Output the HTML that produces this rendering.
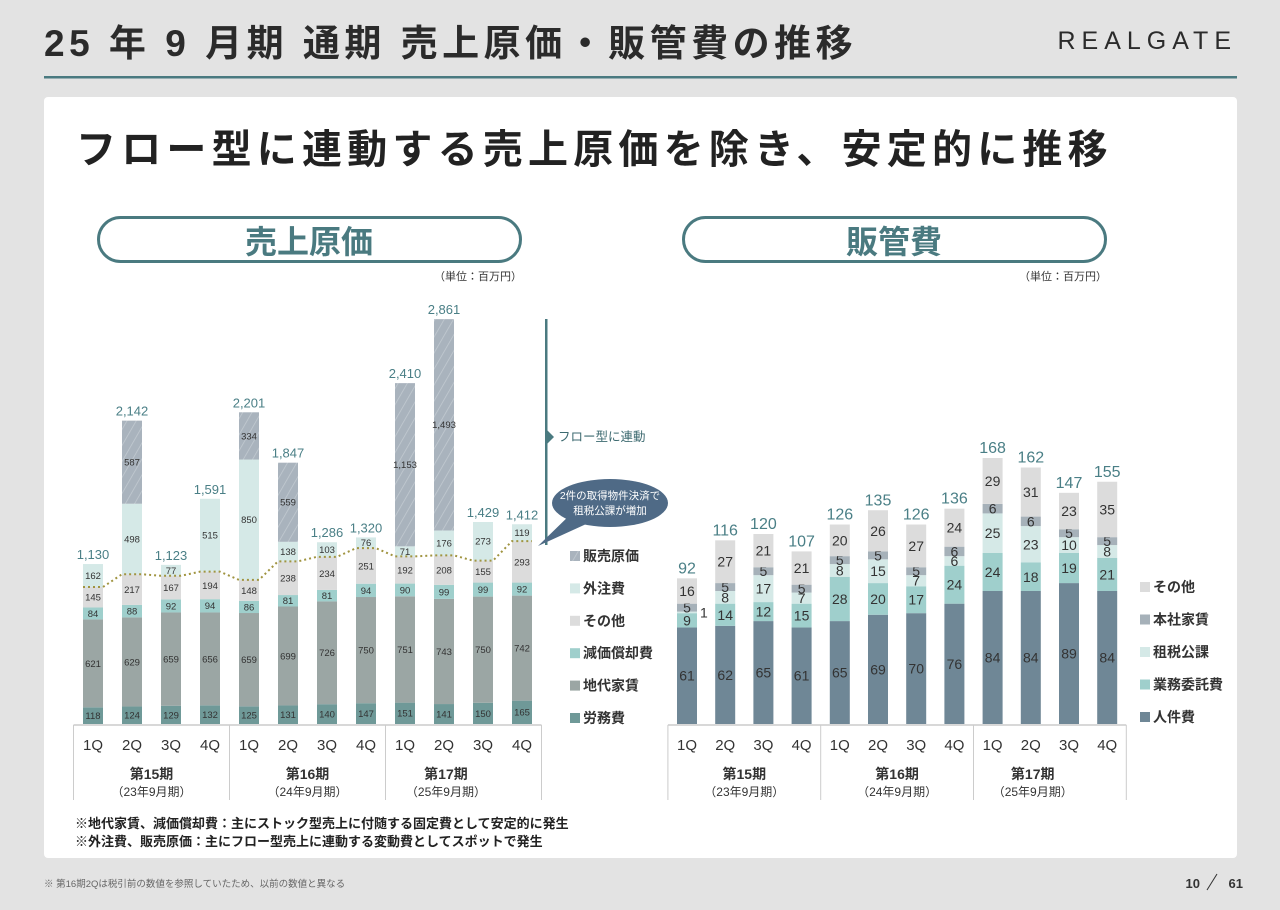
<!DOCTYPE html>
<html lang="ja"><head><meta charset="utf-8">
<style>
html,body{margin:0;padding:0;background:#e3e3e3;}
body{width:1280px;height:905px;position:relative;overflow:hidden;font-family:"Liberation Sans","Noto Sans CJK JP",sans-serif;}
svg text{font-family:"Liberation Sans","Noto Sans CJK JP",sans-serif;}
</style></head>
<body>
<svg id="s" width="1280" height="905" viewBox="0 0 1280 905">
<defs>
<pattern id="hatch" width="8" height="8" patternUnits="userSpaceOnUse" patternTransform="rotate(30)">
<rect width="8" height="8" fill="#a9b3bd"/><line x1="0" y1="0" x2="0" y2="8" stroke="#c3cbd2" stroke-width="1.5"/>
</pattern>
</defs>
<text x="44" y="56" font-size="37" font-weight="bold" fill="#2b2b2b" letter-spacing="4.5">25 年 9 月期 通期 売上原価・販管費の推移</text>
<text x="1237" y="49" font-size="25" fill="#2b2b2b" text-anchor="end" letter-spacing="6">REALGATE</text>
<rect x="44" y="76" width="1193" height="2.5" fill="#4a7a80"/>
<rect x="44" y="97" width="1193" height="761" rx="4" fill="#fff"/>
<text x="76" y="163" font-size="40" font-weight="bold" fill="#222" letter-spacing="5.2">フロー型に連動する売上原価を除き、安定的に推移</text>
<rect x="98.5" y="217.5" width="422" height="44" rx="22" fill="#fff" stroke="#4a7a80" stroke-width="3"/>
<text x="309" y="253" font-size="32" font-weight="bold" fill="#4a7a80" text-anchor="middle">売上原価</text>
<rect x="683.5" y="217.5" width="422" height="44" rx="22" fill="#fff" stroke="#4a7a80" stroke-width="3"/>
<text x="894" y="253" font-size="32" font-weight="bold" fill="#4a7a80" text-anchor="middle">販管費</text>
<text x="522" y="280" font-size="11" fill="#333" text-anchor="end">（単位：百万円）</text>
<text x="1107" y="280" font-size="11" fill="#333" text-anchor="end">（単位：百万円）</text>
<g id="L"></g><g id="R"></g>
<rect x="545" y="319" width="2.5" height="226" fill="#4a7a80"/>
<polygon points="547,430 554,437 547,444" fill="#4a7a80"/>
<text x="558" y="441" font-size="12.5" fill="#3d6a70">フロー型に連動</text>
<g>
<polygon points="575,510 595,520 538,546" fill="#4f6a86"/>
<ellipse cx="610" cy="503" rx="58" ry="24" fill="#4f6a86"/>
<text x="610" y="499" font-size="10.5" fill="#fff" text-anchor="middle">2件の取得物件決済で</text>
<text x="610" y="514" font-size="10.5" fill="#fff" text-anchor="middle">租税公課が増加</text>
</g>
<text x="75" y="828" font-size="13" font-weight="bold" fill="#222">※地代家賃、減価償却費：主にストック型売上に付随する固定費として安定的に発生</text>
<text x="75" y="846" font-size="13" font-weight="bold" fill="#222">※外注費、販売原価：主にフロー型売上に連動する変動費としてスポットで発生</text>
<text x="44" y="887" font-size="9.5" fill="#666">※ 第16期2Qは税引前の数値を参照していたため、以前の数値と異なる</text>
<text x="1200" y="888" font-size="13" font-weight="bold" fill="#333" text-anchor="end">10</text>
<line x1="1207" y1="890" x2="1217" y2="874" stroke="#333" stroke-width="1"/>
<text x="1243" y="888" font-size="13" font-weight="bold" fill="#333" text-anchor="end">61</text>
</svg>
<script>
// ---- Left chart data (売上原価) ----
const quarters = ["1Q","2Q","3Q","4Q","1Q","2Q","3Q","4Q","1Q","2Q","3Q","4Q"];
const periods = ["第15期","第16期","第17期"];
const periodSubs = ["（23年9月期）","（24年9月期）","（25年9月期）"];
const cogsNames = ["労務費","地代家賃","減価償却費","その他","外注費","販売原価"];
const labor = [118,124,129,132,125,131,140,147,151,141,150,165];
const rent = [621,629,659,656,659,699,726,750,751,743,750,742];
const depreciation = [84,88,92,94,86,81,81,94,90,99,99,92];
const otherCost = [145,217,167,194,148,238,234,251,192,208,155,293];
const outsourcing = [162,498,77,515,850,138,103,76,71,176,273,119];
const salesCost = [0,587,0,0,334,559,0,0,1153,1493,0,0];
const cogsTotals = ["1,130","2,142","1,123","1,591","2,201","1,847","1,286","1,320","2,410","2,861","1,429","1,412"];
// ---- Right chart data (販管費) ----
const sgaNames = ["人件費","業務委託費","租税公課","本社家賃","その他"];
const personnel = [61,62,65,61,65,69,70,76,84,84,89,84];
const contract = [9,14,12,15,28,20,17,24,24,18,19,21];
const taxes = [1,8,17,7,8,15,7,6,25,23,10,8];
const hqRent = [5,5,5,5,5,5,5,6,6,6,5,5];
const sgaOther = [16,27,21,21,20,26,27,24,29,31,23,35];
const sgaTotals = ["92","116","120","107","126","135","126","136","168","162","147","155"];

const NS="http://www.w3.org/2000/svg";
function mk(tag,attrs,parent){const e=document.createElementNS(NS,tag);for(const k in attrs)e.setAttribute(k,attrs[k]);parent.appendChild(e);return e;}
function fmt(v){return String(v).replace(/\B(?=(\d{3})+(?!\d))/g,",");}

function drawChart(g, cfg){
  const base=724;
  const xPos=i=>cfg.x0+i*cfg.step;
  const yScale=v=>v*cfg.k;
  const tops=[];
  quarters.forEach((q,i)=>{
    let y=base;const cx=xPos(i);
    cfg.series.forEach((arr,si)=>{
      const v=arr[i];const h=yScale(v);
      if(v>0){
        const r=mk("rect",{x:cx-cfg.bw/2,y:y-h,width:cfg.bw,height:h,fill:cfg.colors[si]},g);
        
        
        const small=h<3;
        const t=mk("text",{x:small?cx+cfg.bw/2+3:cx,y:y-h/2+cfg.fs*0.36,"font-size":cfg.fs,fill:"#333","text-anchor":small?"start":"middle"},g);
        t.textContent=fmt(v);
        
        
      }
      y-=h;
      if(cfg.lineAfter===si) tops.push([cx,y]);
    });
    const tt=mk("text",{x:cx,y:y-5,"font-size":cfg.tfs,fill:"#4a7f86","text-anchor":"middle"},g);
    tt.textContent=cfg.totals[i];
    
    
    const ql=mk("text",{x:cx,y:750,"font-size":15,fill:"#333","text-anchor":"middle"},g);
    ql.textContent=q;
    
    
  });
  if(tops.length){
    let d="";tops.forEach(([x,y],i)=>{d+=(i?"L":"M")+(x-cfg.bw/2)+","+y+"L"+(x+cfg.bw/2)+","+y;});
    const p=mk("path",{d:d,fill:"none",stroke:"#a09440","stroke-width":2,"stroke-dasharray":"2,3"},g);
    
    
  }
  const half=cfg.step/2;
  const ax=mk("line",{x1:xPos(0)-half,x2:xPos(11)+half,y1:base+1,y2:base+1,stroke:"#ccc","stroke-width":1.5},g);
  
  
  [0,4,8,12].forEach(k=>{
    const sx=xPos(k)-half;
    const l=mk("line",{x1:sx,x2:sx,y1:base+1,y2:800,stroke:"#ccc","stroke-width":1},g);
    
    
  });
  periods.forEach((p,k)=>{
    const cx=(k===2)?xPos(4*k)+ (xPos(4*k+3)-xPos(4*k))*0.35 : xPos(4*k)+(xPos(4*k+3)-xPos(4*k))/2;
    const t=mk("text",{x:cx,y:779,"font-size":14,"font-weight":"bold",fill:"#333","text-anchor":"middle"},g);
    t.textContent=p;
    
    
    const s=mk("text",{x:cx,y:796,"font-size":12,fill:"#333","text-anchor":"middle"},g);
    s.textContent=periodSubs[k];
    
    
  });
  cfg.legendNames.forEach((n,j)=>{
    const ly=cfg.ly0+j*cfg.lstep;
    const si=cfg.series.length-1-j;
    const r=mk("rect",{x:cfg.lx,y:ly-10,width:10,height:10,fill:cfg.colors[si]},g);
    
    
    const t=mk("text",{x:cfg.lx+13,y:ly,"font-size":14,"font-weight":"bold",fill:"#333"},g);
    t.textContent=n;
    
    
  });
}
drawChart(document.getElementById('L'),{key:'cogs',x0:93,step:39,bw:20,k:405/2861,fs:9.5,tfs:13,
  series:[labor,rent,depreciation,otherCost,outsourcing,salesCost],
  colors:["#6f9998","#9ba6a4","#9fcfcc","#dcdcdc","#d5e9e7","url(#hatch)"],
  totals:cogsTotals,lineAfter:3,legendNames:cogsNames.slice().reverse(),lx:570,ly0:561,lstep:32.4});
drawChart(document.getElementById('R'),{key:'sga',x0:687,step:38.2,bw:20,k:266/168,fs:14,tfs:16,
  series:[personnel,contract,taxes,hqRent,sgaOther],
  colors:["#6f8796","#9fcfcc","#d5e9e7","#a6b1b9","#dcdcdc"],
  totals:sgaTotals,lineAfter:-1,legendNames:sgaNames.slice().reverse(),lx:1140,ly0:592,lstep:32.5});
</script>
</body></html>
